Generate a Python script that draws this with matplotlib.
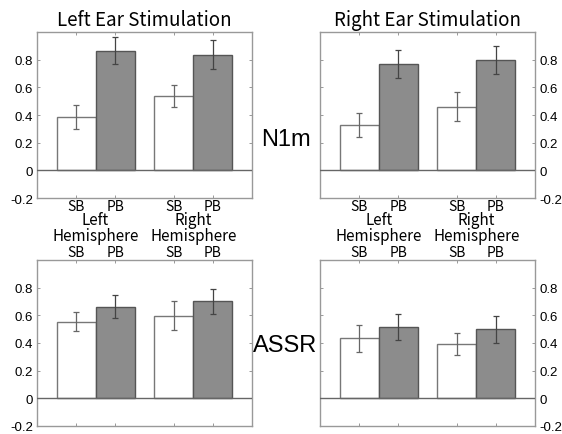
import numpy as np
import matplotlib.pyplot as plt

# data: [Left hemisphere, Right hemisphere]
groups = ["Left", "Right"]
conds = ["SB", "PB"]

n1m_left_sb = [0.387, 0.538]
n1m_left_pb = [0.866, 0.835]
n1m_left_sb_err = [0.085, 0.08]
n1m_left_pb_err = [0.10, 0.105]

n1m_right_sb = [0.328, 0.46]
n1m_right_pb = [0.769, 0.798]
n1m_right_sb_err = [0.09, 0.105]
n1m_right_pb_err = [0.10, 0.10]

assr_left_sb = [0.555, 0.596]
assr_left_pb = [0.662, 0.70]
assr_left_sb_err = [0.07, 0.105]
assr_left_pb_err = [0.084, 0.09]

assr_right_sb = [0.433, 0.392]
assr_right_pb = [0.518, 0.499]
assr_right_sb_err = [0.095, 0.08]
assr_right_pb_err = [0.093, 0.096]

yticks = [-0.2, 0, 0.2, 0.4, 0.6, 0.8]
ytick_labels = ["-0.2", "0", "0.2", "0.4", "0.6", "0.8"]

jp = ["Noto Sans CJK JP", "DejaVu Sans"]
num = ["Liberation Sans", "DejaVu Sans"]

fig = plt.figure(figsize=(5.62, 4.35), dpi=100)

W = 0.3826
H = 0.3816
pos = {
    "tl": [0.0658, 0.5425, W, H],
    "tr": [0.5694, 0.5425, W, H],
    "bl": [0.0658, 0.0184, W, H],
    "br": [0.5694, 0.0184, W, H],
}

x = np.array([1.0, 2.0])
off = 0.2
bw = 0.4


def panel(key, sb, pb, sb_err, pb_err, right, top_labels, title=None):
    ax = fig.add_axes(pos[key])
    ax.bar(x - off, sb, bw, color="white", edgecolor="#777777", linewidth=1.0, zorder=2)
    ax.bar(x + off, pb, bw, color="#8c8c8c", edgecolor="#555555", linewidth=1.0, zorder=2)
    ax.errorbar(x - off, sb, yerr=sb_err, fmt="none", ecolor="#666666",
                elinewidth=0.9, capsize=2, capthick=0.9, zorder=3)
    ax.errorbar(x + off, pb, yerr=pb_err, fmt="none", ecolor="#444444",
                elinewidth=0.9, capsize=2, capthick=0.9, zorder=3)
    ax.axhline(0, color="#666666", linewidth=1.0, zorder=4)
    ax.set_xlim(0.4, 2.6)
    ax.set_ylim(-0.2, 1.0)
    ax.set_yticks(yticks)
    ax.set_yticklabels(ytick_labels, family=num, fontsize=9.5)
    ax.set_xticks([x[0] - off, x[0] + off, x[1] - off, x[1] + off])
    ax.set_xticklabels(conds * 2, family=jp, fontsize=10)
    ax.tick_params(direction="in", length=2.5, width=0.6, color="#888888",
                   top=True, bottom=True, left=True, right=True, pad=3)
    ax.tick_params(axis="y", labelleft=not right, labelright=right)
    ax.tick_params(axis="x", labelbottom=not top_labels, labeltop=top_labels, pad=1)
    for s in ax.spines.values():
        s.set_color("#999999")
        s.set_linewidth(1.0)
    if title:
        ax.set_title(title, family=jp, fontsize=13.5, pad=5)
    return ax


panel("tl", n1m_left_sb, n1m_left_pb, n1m_left_sb_err, n1m_left_pb_err,
      False, False, "Left Ear Stimulation")
panel("tr", n1m_right_sb, n1m_right_pb, n1m_right_sb_err, n1m_right_pb_err,
      True, False, "Right Ear Stimulation")
axbl = panel("bl", assr_left_sb, assr_left_pb, assr_left_sb_err, assr_left_pb_err,
             False, True)
axbr = panel("br", assr_right_sb, assr_right_pb, assr_right_sb_err, assr_right_pb_err,
             True, True)

# hemisphere labels between rows
for ax in [axbl, axbr]:
    for xi, g in zip(x, groups):
        ax.text(xi, 1.245, g, transform=ax.get_xaxis_transform(), ha="center",
                va="center", family=jp, fontsize=11)
        ax.text(xi, 1.15, "Hemisphere", transform=ax.get_xaxis_transform(),
                ha="center", va="center", family=jp, fontsize=11)

fig.text(0.508, 0.678, "N1m", ha="center", va="center", family=num, fontsize=17)
fig.text(0.508, 0.205, "ASSR", ha="center", va="center", family=num, fontsize=17)

fig.savefig("out.png", dpi=100)
